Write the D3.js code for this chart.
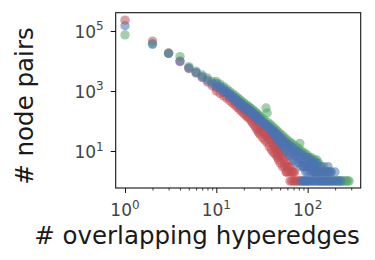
<!DOCTYPE html>
<html>
<head>
<meta charset="utf-8">
<script src="https://cdn.jsdelivr.net/npm/d3@7"></script>
<style>
  body { margin: 0; background: #fff; }
  svg { display: block; font-family: "DejaVu Sans", sans-serif; }
  .tick-label { fill: #444; font-size: 17px; }
  .axis-label { fill: #1a1a1a; font-size: 24.5px; }
</style>
</head>
<body>
<svg id="chart" width="375" height="260"></svg>
<script>
"use strict";

// [# overlapping hyperedges, # node pairs]
const redPoints = [
  [1, 230000], [2, 46000], [3, 18500], [4, 10000], [5, 5600], [6, 4000], [7, 2800], [8, 2000], [9, 1500],
  // upper part (mostly under blue)
  [10, 1300], [12, 900], [14, 620], [16, 430], [18, 320], [20, 250], [22, 200], [24, 160], [26, 125],
  [28, 100], [30, 80], [32, 66], [34, 55], [36, 46], [38, 38], [40, 31], [42, 25], [44, 20], [46, 16],
  [48, 13], [50, 11], [53, 8], [56, 6], [60, 4], [64, 3], [68, 2], [72, 2],
  // middle
  [30, 55], [32, 45], [34, 37], [36, 31], [38, 25], [40, 20], [42, 16], [44, 13], [46, 11], [48, 9],
  [50, 7], [53, 6], [56, 4], [59, 3], [62, 3], [66, 2], [70, 2],
  // lower edge
  [10, 1000], [11, 830], [12, 690], [13, 580], [14, 480], [15, 400], [16, 335], [17, 285], [18, 240],
  [19, 205], [20, 175], [21, 152], [22, 135], [23, 121], [24, 100], [25, 85], [26, 72], [27, 60],
  [28, 50], [29, 42], [30, 36], [32, 28], [34, 23], [36, 19], [38, 14], [40, 11], [42, 9], [44, 8],
  [46, 7], [48, 5], [50, 4], [53, 3], [56, 3], [59, 2], [62, 2], [64, 1], [67, 1], [70, 1], [73, 1],
  [76, 1], [79, 1], [82, 1], [47, 6], [58, 2]
];

const greenPoints = [
  [1, 74000], [2, 38000], [3, 18000], [4, 14000], [5, 6500], [6, 4600], [7, 3400], [8, 2700], [9, 2100],
  [10, 2100], [11, 1700], [12, 1400], [13, 1150], [14, 960], [15, 820], [16, 700], [17, 600], [18, 520],
  [19, 455], [20, 400], [21, 355], [22, 318], [23, 290], [24, 262], [25, 235], [26, 212], [27, 192],
  [28, 174], [29, 158], [30, 145], [32, 122], [34, 104], [35, 270], [36, 185], [37, 88], [39, 76],
  [41, 66], [43, 58], [45, 51], [47, 45], [50, 38], [53, 33], [56, 28], [59, 24], [62, 21], [65, 19],
  [68, 17], [72, 15], [76, 13], [80, 12], [82, 18], [85, 10], [90, 9], [95, 8], [100, 7], [105, 6],
  [110, 6], [115, 5], [120, 5], [126, 5], [132, 4], [140, 3], [150, 3], [160, 2], [170, 2], [180, 2],
  // tail
  [135, 1], [145, 1], [155, 1], [165, 1], [175, 1], [185, 1], [195, 1], [205, 1], [215, 1], [225, 1],
  [235, 1], [245, 1], [255, 1], [265, 1], [275, 1], [285, 1]
];

const bluePoints = [
  [1, 150000], [2, 36000], [3, 18000], [4, 9500], [5, 5800], [6, 4100], [7, 3000], [8, 2300], [9, 1800],
  // upper edge
  [10, 1800], [11, 1430], [12, 1180], [13, 960], [14, 800], [15, 680], [16, 580], [17, 490], [18, 420],
  [19, 370], [20, 320], [21, 285], [22, 255], [23, 235], [24, 210], [25, 185], [26, 168], [27, 152],
  [28, 138], [29, 125], [30, 115], [32, 97], [34, 82], [36, 72], [38, 62], [40, 54], [42, 47], [44, 42],
  [46, 37], [48, 33], [50, 29], [53, 25], [56, 21], [59, 18], [62, 16], [65, 14], [68, 13], [72, 11],
  [76, 10], [80, 9], [85, 8], [90, 7], [95, 6], [100, 6], [105, 5], [110, 5], [115, 4], [120, 4],
  [126, 4], [132, 3], [140, 3], [150, 2], [160, 2], [167, 3], [180, 2], [199, 2],
  // middle
  [40, 50], [44, 36], [48, 27], [52, 21], [56, 16], [60, 13], [65, 10], [70, 8], [75, 7], [80, 6],
  [85, 5], [90, 4], [95, 4], [100, 3], [105, 3], [110, 3], [115, 2], [120, 2], [125, 2], [130, 2],
  [140, 2],
  // lower edge
  [10, 1450], [11, 1200], [12, 1000], [13, 840], [14, 700], [15, 580], [16, 490], [17, 420], [18, 365],
  [19, 320], [20, 285], [21, 255], [22, 230], [23, 210], [24, 188], [25, 168], [26, 150], [27, 135],
  [28, 122], [29, 110], [30, 100], [32, 86], [34, 76], [36, 66], [38, 55], [40, 46], [42, 38], [44, 31],
  [46, 26], [48, 22], [50, 19], [53, 15], [56, 12], [59, 10], [62, 8], [65, 7], [68, 6], [72, 5],
  [76, 4], [80, 4], [85, 3], [90, 3], [95, 2], [100, 2],
  // tail
  [90, 3], [98, 3], [106, 3], [112, 3], [108, 2], [116, 2], [124, 2], [135, 2], [145, 2], [155, 2],
  [170, 2], [85, 1], [88, 1], [90, 1], [92, 1], [95, 1], [98, 1], [100, 1], [103, 1], [106, 1],
  [110, 1], [114, 1], [118, 1], [122, 1], [127, 1], [132, 1], [138, 1], [144, 1], [150, 1], [157, 1],
  [165, 1], [173, 1], [182, 1], [192, 1], [205, 1], [218, 1], [230, 1]
];

const series = [
  { name: "red", color: "#C44E52", points: redPoints },
  { name: "green", color: "#55A868", points: greenPoints },
  { name: "blue", color: "#4C72B0", points: bluePoints }
];

const xMajor = [1, 10, 100];
const xMinor = [2, 3, 4, 5, 6, 7, 8, 9, 20, 30, 40, 50, 60, 70, 80, 90, 200, 300];
const yMajor = [10, 1000, 100000];

const plot = { left: 115.7, right: 360.7, top: 12.7, bottom: 188 };

const svg = d3.select("#chart");

const x = d3.scaleLog()
    .domain([0.791, 381])
    .range([plot.left, plot.right]);
const y = d3.scaleLog()
    .domain([0.585, 407000])
    .range([plot.bottom, plot.top]);

const exponent = (v) => Math.round(Math.log10(v));

// Points
series.forEach((s) => {
  svg.append("g")
      .attr("class", "series-" + s.name)
      .selectAll("circle")
      .data(s.points)
      .enter().append("circle")
      .attr("cx", (d) => x(d[0]))
      .attr("cy", (d) => y(d[1]))
      .attr("r", 4.7)
      .attr("fill", s.color)
      .attr("fill-opacity", 0.55);
});

// Frame
svg.append("rect")
    .attr("x", plot.left)
    .attr("y", plot.top)
    .attr("width", plot.right - plot.left)
    .attr("height", plot.bottom - plot.top)
    .attr("fill", "none")
    .attr("stroke", "#111")
    .attr("stroke-width", 1.1);

// X axis
const xAxis = svg.append("g")
    .attr("transform", "translate(0," + plot.bottom + ")")
    .call(d3.axisBottom(x).tickValues(xMajor).tickSize(5).tickFormat(""));
xAxis.select(".domain").remove();
xAxis.selectAll(".tick line").attr("stroke", "#111");

svg.append("g")
    .attr("transform", "translate(0," + plot.bottom + ")")
    .call(d3.axisBottom(x).tickValues(xMinor).tickSize(2.5).tickFormat(""))
    .call((g) => g.select(".domain").remove())
    .selectAll(".tick line").attr("stroke", "#111").attr("stroke-width", 0.8);

const xLabels = svg.append("g")
    .selectAll("text")
    .data(xMajor)
    .enter().append("text")
    .attr("class", "tick-label")
    .attr("x", (d) => x(d))
    .attr("y", plot.bottom + 28)
    .attr("text-anchor", "middle");
xLabels.append("tspan").text("10");
xLabels.append("tspan")
    .attr("dy", -7.5)
    .attr("font-size", "12px")
    .text((d) => exponent(d));

// Y axis
const yAxis = svg.append("g")
    .attr("transform", "translate(" + plot.left + ",0)")
    .call(d3.axisLeft(y).tickValues(yMajor).tickSize(5).tickFormat(""));
yAxis.select(".domain").remove();
yAxis.selectAll(".tick line").attr("stroke", "#111");

const yLabels = svg.append("g")
    .selectAll("text")
    .data(yMajor)
    .enter().append("text")
    .attr("class", "tick-label")
    .attr("x", plot.left - 12)
    .attr("y", (d) => y(d) + 7)
    .attr("text-anchor", "end");
yLabels.append("tspan").text("10");
yLabels.append("tspan")
    .attr("dy", -7.5)
    .attr("font-size", "12px")
    .text((d) => exponent(d));

// Axis titles
svg.append("text")
    .attr("class", "axis-label")
    .attr("x", 197)
    .attr("y", 244)
    .attr("text-anchor", "middle")
    .text("# overlapping hyperedges");

svg.append("text")
    .attr("class", "axis-label")
    .attr("transform", "translate(33,106) rotate(-90)")
    .attr("text-anchor", "middle")
    .text("# node pairs");
</script>
</body>
</html>
